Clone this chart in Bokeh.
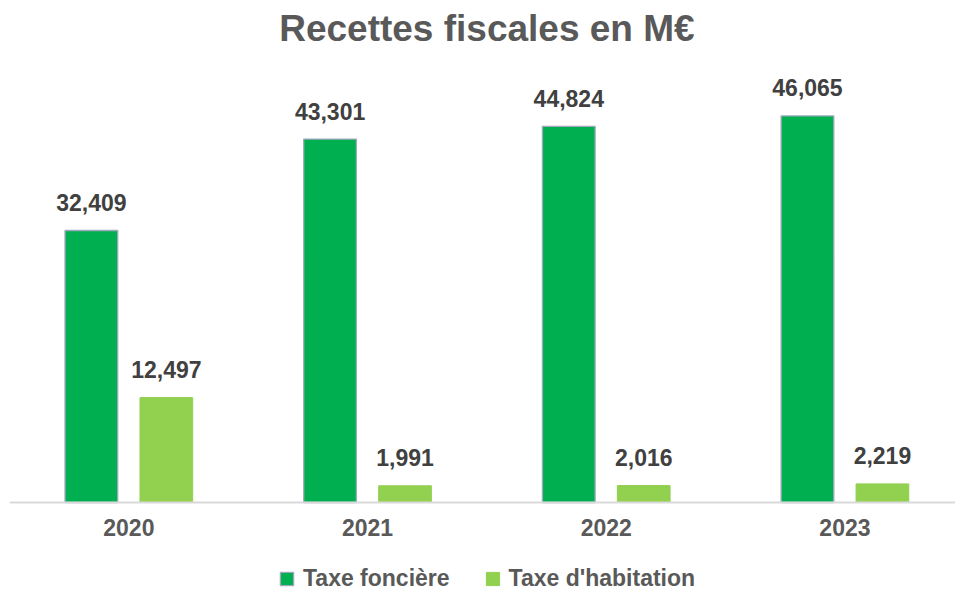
from bokeh.plotting import figure
from bokeh.models import (ColumnDataSource, Range1d, FixedTicker, Legend, LegendItem, Label)
from bokeh.transform import dodge
from bokeh.core.properties import value
from bokeh.embed import file_html
from bokeh.resources import INLINE

# ---- data ----
years = ["2020", "2021", "2022", "2023"]
taxe_fonciere = [32409, 43301, 44824, 46065]
taxe_habitation = [12497, 1991, 2016, 2219]
title_text = "Recettes fiscales en M€"
series_names = ["Taxe foncière", "Taxe d'habitation"]

FONT = "Liberation Sans"
DARK = "#00B050"
LIGHT = "#92D050"
OUTLINE = "#A0A8BC"

W, H = 955, 592
BASE_PX = 502          # pixel row of the value axis zero
PX_PER_UNIT = 0.008393  # vertical scale
Y_END = BASE_PX / PX_PER_UNIT
Y_START = -(H - BASE_PX) / PX_PER_UNIT
CAT_PX = 238.7
LEFT_PX = 9
X_START = -0.5
X_END = X_START + (W - LEFT_PX) / CAT_PX

idx = list(range(len(years)))
src = ColumnDataSource(dict(
    x=idx,
    tf=taxe_fonciere,
    th=taxe_habitation,
    tf_lbl=[f"{v:,}" for v in taxe_fonciere],
    th_lbl=[f"{v:,}" for v in taxe_habitation],
))

p = figure(width=W, height=H, output_backend="svg", toolbar_location=None,
           title=None, y_axis_location=None,
           x_range=Range1d(X_START, X_END), y_range=Range1d(Y_START, Y_END),
           min_border_left=LEFT_PX, min_border_right=0, min_border_top=0,
           min_border_bottom=0)
p.outline_line_color = None
p.grid.visible = False
p.background_fill_color = "white"

off = 0.157
bw = 0.2208
p.vbar(x=dodge("x", -off, range=p.x_range), top="tf", bottom=0, width=bw, source=src,
       fill_color=DARK, line_color=OUTLINE, line_width=1.3)
p.vbar(x=dodge("x", off, range=p.x_range), top="th", bottom=0, width=bw, source=src,
       fill_color=LIGHT, line_color=LIGHT, line_width=1)

lbl_kw = dict(text_font=value(FONT), text_font_style="bold", text_font_size="23px",
              text_color="#404040", text_align="center", text_baseline="alphabetic",
              y_offset=-28)
p.text(x=dodge("x", -off, range=p.x_range), y="tf", text="tf_lbl", source=src, **lbl_kw)
p.text(x=dodge("x", off, range=p.x_range), y="th", text="th_lbl", source=src, **lbl_kw)

# legend proxies
l1 = p.scatter(x="x", y="tf", source=src, marker="square", fill_color=DARK,
               line_color=OUTLINE, line_width=1.3, visible=False)
l2 = p.scatter(x="x", y="th", source=src, marker="square", fill_color=LIGHT,
               line_color=LIGHT, visible=False)

ax = p.xaxis[0]
ax.fixed_location = 0
ax.ticker = FixedTicker(ticks=idx)
ax.major_label_overrides = {i: y for i, y in zip(idx, years)}
ax.axis_line_color = "#D9D9D9"
ax.axis_line_width = 2
ax.major_tick_line_color = None
ax.minor_tick_line_color = None
ax.major_tick_out = 0
ax.major_tick_in = 0
ax.major_label_standoff = 16
ax.major_label_text_font = FONT
ax.major_label_text_font_style = "bold"
ax.major_label_text_font_size = "23px"
ax.major_label_text_color = "#595959"

title_y = (BASE_PX - 28) / PX_PER_UNIT
p.add_layout(Label(x=1.5, y=title_y, text=title_text,
                   text_font=FONT, text_font_style="bold", text_font_size="37px",
                   text_color="#595959", text_align="center",
                   text_baseline="alphabetic"))

legend = Legend(items=[LegendItem(label=series_names[0], renderers=[l1]),
                       LegendItem(label=series_names[1], renderers=[l2])],
                orientation="horizontal", location=(261, -3),
                padding=0, margin=0, spacing=26,
                glyph_width=33, glyph_height=33, label_standoff=-8,
                border_line_color=None, background_fill_alpha=0,
                label_text_font=FONT, label_text_font_style="bold",
                label_text_font_size="23px", label_text_color="#595959")
p.add_layout(legend)

open("out.html", "w").write(file_html(p, INLINE))
